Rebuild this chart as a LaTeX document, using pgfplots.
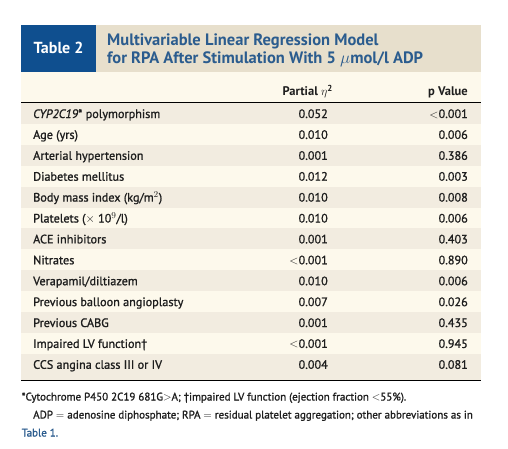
\documentclass[border=0pt]{standalone}
\usepackage{fontspec}
\setmainfont{PT Sans}
\newfontfamily\rowfont{PT Sans}[FakeBold=1.2]
\usepackage{pgfplots}
\pgfplotsset{compat=1.18}
\definecolor{hblue}{HTML}{0F4F8F}
\definecolor{tblue}{HTML}{2B5C8E}
\definecolor{tanb}{HTML}{E7DFCC}
\definecolor{shade}{HTML}{F2ECE0}
\definecolor{cream}{HTML}{FDF9EC}
\definecolor{txt}{HTML}{1E1E1E}
\newcommand{\semi}{\char"3B\relax}
\newcommand{\dg}{\char"2020\relax}
\newcommand{\rect}[5]{\addplot[fill=#5,draw=none] coordinates {(#1,#2) (#3,#2) (#3,#4) (#1,#4)} -- cycle;}
\pgfplotsset{txtplot/.style={draw=none, mark=none, nodes near coords, point meta=explicit symbolic,
  every node near coord/.append style={inner sep=0pt, text=txt, font=\rowfont\fontsize{12.2bp}{14bp}\selectfont}}}
\begin{document}
\begin{tikzpicture}
\begin{axis}[scale only axis, width=508bp, height=449bp, xmin=0, xmax=508, ymin=0, ymax=449,
  y dir=reverse, axis lines=none, ticks=none, clip=false]
\rect{0}{0}{508}{449}{white}
\rect{21}{25}{96}{72}{hblue}
\rect{96}{25}{481}{72}{tanb}
\rect{21}{72}{481}{103}{cream}
% row bands
\rect{21}{103}{481}{123.9}{shade}
\rect{21}{123.9}{481}{144.8}{cream}
\rect{21}{144.8}{481}{165.7}{shade}
\rect{21}{165.7}{481}{186.6}{cream}
\rect{21}{186.6}{481}{207.5}{shade}
\rect{21}{207.5}{481}{228.4}{cream}
\rect{21}{228.4}{481}{249.3}{shade}
\rect{21}{249.3}{481}{270.2}{cream}
\rect{21}{270.2}{481}{291.1}{shade}
\rect{21}{291.1}{481}{312.0}{cream}
\rect{21}{312.0}{481}{332.9}{shade}
\rect{21}{332.9}{481}{353.8}{cream}
\rect{21}{353.8}{481}{380.5}{shade}
\addplot[black, line width=0.9bp] coordinates {(21,102.5) (481,102.5)};
\addplot[black, line width=0.9bp] coordinates {(21,380.5) (481,380.5)};
% title
\addplot[txtplot, every node near coord/.append style={anchor=base, text=white, font=\fontsize{16bp}{18bp}\selectfont\bfseries}]
  coordinates {(58.5,54) [Table 2]};
\addplot[txtplot, every node near coord/.append style={anchor=base west, text=tblue, font=\fontsize{16.5bp}{18bp}\selectfont\bfseries}]
  coordinates {(107,45.5) [Multivariable Linear Regression Model]
               (107,63.5) [for RPA After Stimulation With 5 $\mu$mol/l ADP]};
% column headers
\addplot[txtplot, every node near coord/.append style={anchor=base east, font=\fontsize{12.5bp}{14bp}\selectfont\bfseries}]
  coordinates {(333,95.7) [Partial $\eta^{\mathbf{2}}$] (468,95.7) [p Value]};
% row labels
\addplot[txtplot, every node near coord/.append style={anchor=base west}]
  coordinates {
  (33,118.0) [\textit{CYP2C19}* polymorphism]
  (33,138.9) [Age (yrs)]
  (33,159.8) [Arterial hypertension]
  (33,180.7) [Diabetes mellitus]
  (33,201.6) [Body mass index (kg/m$^2$)]
  (33,222.5) [Platelets ($\times$ 10$^9$/l)]
  (33,243.4) [ACE inhibitors]
  (33,264.3) [Nitrates]
  (33,285.2) [Verapamil/diltiazem]
  (33,306.1) [Previous balloon angioplasty]
  (33,327.0) [Previous CABG]
  (33,347.9) [Impaired LV function\dg]
  (33,368.8) [CCS angina class III or IV]
  };
% partial eta^2
\addplot[txtplot, every node near coord/.append style={anchor=base east}]
  coordinates {
  (328,118.0) [0.052]
  (328,138.9) [0.010]
  (328,159.8) [0.001]
  (328,180.7) [0.012]
  (328,201.6) [0.010]
  (328,222.5) [0.010]
  (328,243.4) [0.001]
  (328,264.3) [$<$0.001]
  (328,285.2) [0.010]
  (328,306.1) [0.007]
  (328,327.0) [0.001]
  (328,347.9) [$<$0.001]
  (328,368.8) [0.004]
  };
% p value
\addplot[txtplot, every node near coord/.append style={anchor=base east}]
  coordinates {
  (468,118.0) [$<$0.001]
  (468,138.9) [0.006]
  (468,159.8) [0.386]
  (468,180.7) [0.003]
  (468,201.6) [0.008]
  (468,222.5) [0.006]
  (468,243.4) [0.403]
  (468,264.3) [0.890]
  (468,285.2) [0.006]
  (468,306.1) [0.026]
  (468,327.0) [0.435]
  (468,347.9) [0.945]
  (468,368.8) [0.081]
  };
% footnotes
\addplot[txtplot, every node near coord/.append style={anchor=base west, font=\rowfont\fontsize{11bp}{12bp}\selectfont}]
  coordinates {
  (21.5,400.5) [*Cytochrome P450 2C19 681G$>$A\semi{} \dg impaired LV function (ejection fraction $<$55\%).]
  (33,418.5) [ADP $=$ adenosine diphosphate\semi{} RPA $=$ residual platelet aggregation\semi{} other abbreviations as in]
  };
\addplot[txtplot, every node near coord/.append style={anchor=base west, text=tblue, font=\rowfont\fontsize{11bp}{12bp}\selectfont}]
  coordinates {(21.5,436.5) [Table 1.]};
\end{axis}
\end{tikzpicture}
\end{document}
